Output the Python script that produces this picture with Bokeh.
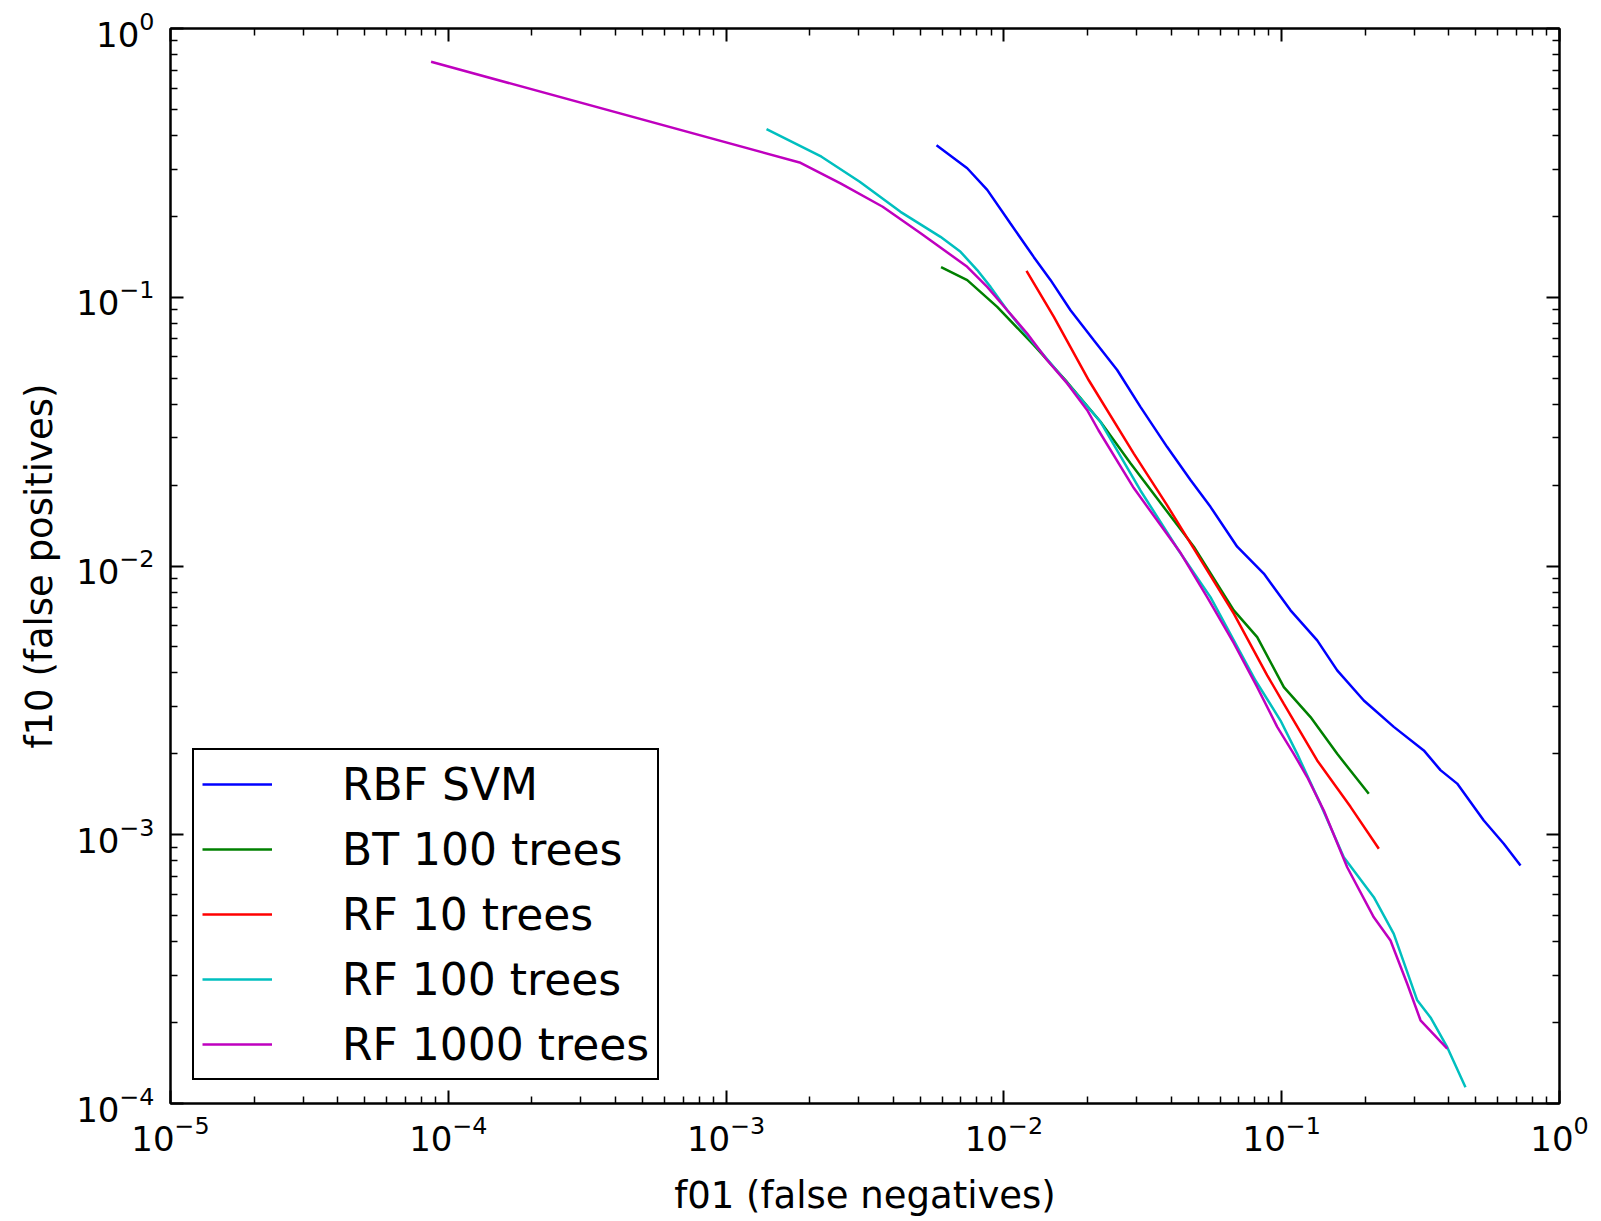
from bokeh.plotting import figure
from bokeh.models import LogAxis, FixedTicker, Legend, LegendItem
from bokeh.embed import file_html
from bokeh.resources import INLINE

# ---- data ----
svm_x = [0.00572, 0.00738, 0.00871, 0.01056, 0.01282, 0.01471, 0.01737, 0.02107, 0.02557,
         0.03101, 0.03871, 0.04696, 0.05541, 0.06915, 0.08621, 0.1076, 0.1342, 0.1584,
         0.1975, 0.2532, 0.3247, 0.3728, 0.4282, 0.5339, 0.6302, 0.7238]
svm_y = [0.368, 0.302, 0.251, 0.188, 0.141, 0.116, 0.0895, 0.0692, 0.0536,
         0.0391, 0.0277, 0.0209, 0.0166, 0.0118, 0.00937, 0.00684, 0.00529, 0.00409,
         0.00316, 0.00252, 0.00206, 0.00174, 0.00155, 0.00113, 0.000926, 0.000768]

bt100_x = [0.00594, 0.00738, 0.00946, 0.01282, 0.0169, 0.02227, 0.02855, 0.04827,
           0.06724, 0.08163, 0.1018, 0.127, 0.1584, 0.2058]
bt100_y = [0.1294, 0.1158, 0.0921, 0.0663, 0.0483, 0.0344, 0.0241, 0.0118,
           0.00684, 0.00544, 0.00354, 0.00274, 0.0020, 0.00142]

rf10_x = [0.01206, 0.01513, 0.02021, 0.02935, 0.03871, 0.04827, 0.06724, 0.08867,
          0.1018, 0.1342, 0.1769, 0.2237]
rf10_y = [0.1254, 0.0845, 0.0491, 0.0262, 0.0168, 0.0116, 0.00665, 0.00392,
          0.00307, 0.00189, 0.00127, 0.000887]

rf100_x = [0.001398, 0.002205, 0.003027, 0.004244, 0.005912, 0.00698, 0.008015, 0.00895,
           0.01028, 0.01282, 0.01737, 0.02227, 0.03101, 0.04262, 0.05541, 0.08049,
           0.09902, 0.1137, 0.1379, 0.1673, 0.2146, 0.2532, 0.3075, 0.3433, 0.3943, 0.4587]
rf100_y = [0.4224, 0.3333, 0.2689, 0.2079, 0.1678, 0.1476, 0.1262, 0.1093,
           0.0895, 0.0673, 0.0464, 0.0344, 0.0191, 0.0114, 0.00766, 0.00375,
           0.00266, 0.0020, 0.0013, 0.000825, 0.000586, 0.000428, 0.000242, 0.000209,
           0.000162, 0.000115]

rf1000_x = [8.67e-5, 0.001853, 0.002581, 0.003662, 0.00503, 0.007378, 0.008708, 0.01028,
            0.01213, 0.01432, 0.0169, 0.01995, 0.0219, 0.02935, 0.03662, 0.04322,
            0.05391, 0.06724, 0.08163, 0.09634, 0.1105, 0.1235, 0.1418, 0.1721,
            0.2146, 0.2464, 0.283, 0.316, 0.3943]
rf1000_y = [0.752, 0.3165, 0.2652, 0.2171, 0.1728, 0.1298, 0.1093, 0.0895,
            0.0733, 0.0583, 0.0478, 0.038, 0.032, 0.0195, 0.0142, 0.0112,
            0.00766, 0.00516, 0.00354, 0.00252, 0.0020, 0.00164, 0.00123, 0.000757,
            0.000493, 0.000404, 0.000279, 0.000204, 0.00016]

series_names = ["RBF SVM", "BT 100 trees", "RF 10 trees", "RF 100 trees", "RF 1000 trees"]
series_colors = ["#0000ff", "#008000", "#ff0000", "#00bfbf", "#bf00bf"]

x_decades = [1e-5, 1e-4, 1e-3, 1e-2, 1e-1, 1.0]
y_decades = [1e-4, 1e-3, 1e-2, 1e-1, 1.0]

FONT = "DejaVu Sans"

p = figure(width=1595, height=1219, x_axis_type="log", y_axis_type="log",
           x_range=(1e-5, 1.0), y_range=(1e-4, 1.0),
           output_backend="svg", toolbar_location=None,
           min_border_left=170, min_border_right=36, min_border_top=28, min_border_bottom=116)
p.background_fill_color = "white"
p.border_fill_color = "white"
p.outline_line_color = "black"
p.outline_line_width = 2
p.xgrid.grid_line_color = None
p.ygrid.grid_line_color = None

renderers = []
for xs, ys, col in zip([svm_x, bt100_x, rf10_x, rf100_x, rf1000_x],
                       [svm_y, bt100_y, rf10_y, rf100_y, rf1000_y], series_colors):
    renderers.append(p.line(xs, ys, line_color=col, line_width=2.5))

x_minor = [m * d for d in x_decades[:-1] for m in range(2, 10)]
y_minor = [m * d for d in y_decades[:-1] for m in range(2, 10)]
xt = FixedTicker(ticks=x_decades, minor_ticks=x_minor)
yt = FixedTicker(ticks=y_decades, minor_ticks=y_minor)

bottom = p.below[0]
left = p.left[0]
bottom.ticker = xt
left.ticker = yt

bottom.axis_label = "f01 (false negatives)"
left.axis_label = "f10 (false positives)"
for ax in (bottom, left):
    ax.axis_label_text_font = FONT
    ax.axis_label_text_font_size = "37px"
    ax.axis_label_text_font_style = "normal"
    ax.axis_label_text_color = "black"
    ax.major_label_text_font = FONT
    ax.major_label_text_font_size = "34px"
    ax.major_label_text_color = "black"
bottom.major_label_standoff = 11
bottom.axis_label_standoff = 20
left.major_label_standoff = 16
left.axis_label_standoff = 12

top = LogAxis(ticker=xt, major_label_text_font_size="2px", major_label_text_color=None,
              major_label_standoff=0)
right = LogAxis(ticker=yt, major_label_text_font_size="2px", major_label_text_color=None,
                major_label_standoff=0)
p.add_layout(top, "above")
p.add_layout(right, "right")

for ax in (bottom, left, top, right):
    ax.axis_line_color = "black"
    ax.axis_line_width = 2
    ax.major_tick_in = 13
    ax.major_tick_out = 0
    ax.minor_tick_in = 7
    ax.minor_tick_out = 0
    ax.major_tick_line_color = "black"
    ax.minor_tick_line_color = "black"
    ax.major_tick_line_width = 2
    ax.minor_tick_line_width = 1.5

legend = Legend(items=[LegendItem(label=n, renderers=[r]) for n, r in zip(series_names, renderers)],
                location=(22, 23))
legend.label_text_font = FONT
legend.label_text_font_size = "44px"
legend.label_text_color = "black"
legend.border_line_color = "black"
legend.border_line_alpha = 1.0
legend.border_line_width = 2
legend.background_fill_color = "white"
legend.background_fill_alpha = 1.0
legend.padding = 8
legend.spacing = 13
legend.label_height = 52
legend.glyph_height = 52
legend.glyph_width = 70
legend.label_standoff = 70
legend.margin = 0
p.add_layout(legend)

open("out.html", "w").write(file_html(p, INLINE))
